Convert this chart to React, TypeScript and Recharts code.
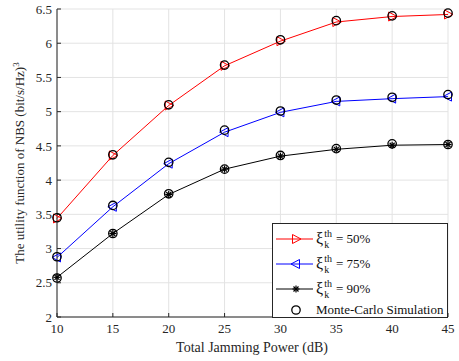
import { LineChart, Line, XAxis, YAxis, CartesianGrid } from "recharts"

const power = [10, 15, 20, 25, 30, 35, 40, 45]
const xi50 = [3.44, 4.36, 5.09, 5.67, 6.03, 6.31, 6.39, 6.42]
const xi75 = [2.87, 3.61, 4.24, 4.7, 4.99, 5.15, 5.19, 5.22]
const xi90 = [2.58, 3.22, 3.79, 4.16, 4.35, 4.45, 4.51, 4.52]
const mc50 = [3.45, 4.37, 5.1, 5.68, 6.05, 6.33, 6.4, 6.44]
const mc75 = [2.88, 3.63, 4.26, 4.73, 5.01, 5.17, 5.21, 5.25]
const mc90 = [2.57, 3.22, 3.8, 4.16, 4.36, 4.46, 4.53, 4.52]
const xTicks = [10, 15, 20, 25, 30, 35, 40, 45]
const yTicks = [2, 2.5, 3, 3.5, 4, 4.5, 5, 5.5, 6, 6.5]

const data = power.map((p, i) => ({
  p,
  xi50: xi50[i],
  xi75: xi75[i],
  xi90: xi90[i],
  mc50: mc50[i],
  mc75: mc75[i],
  mc90: mc90[i],
}))

const FONT = "'Liberation Serif', 'Times New Roman', serif"
const AXIS = "#262626"

const RightTri = ({ cx, cy }: any) => (
  <polygon points={`${cx + 5},${cy} ${cx - 3.5},${cy - 4.5} ${cx - 3.5},${cy + 4.5}`} fill="none" stroke="#ff0000" strokeWidth={1} />
)
const LeftTri = ({ cx, cy }: any) => (
  <polygon points={`${cx - 5},${cy} ${cx + 3.5},${cy - 4.5} ${cx + 3.5},${cy + 4.5}`} fill="none" stroke="#0000ff" strokeWidth={1} />
)
const Star = ({ cx, cy }: any) => (
  <g stroke="#000" strokeWidth={1.2}>
    <line x1={cx - 3.5} y1={cy} x2={cx + 3.5} y2={cy} />
    <line x1={cx} y1={cy - 3.5} x2={cx} y2={cy + 3.5} />
    <line x1={cx - 2.5} y1={cy - 2.5} x2={cx + 2.5} y2={cy + 2.5} />
    <line x1={cx - 2.5} y1={cy + 2.5} x2={cx + 2.5} y2={cy - 2.5} />
  </g>
)
const Circ = ({ cx, cy }: any) => <circle cx={cx} cy={cy} r={4.2} fill="none" stroke="#000" strokeWidth={1.3} />

function Xi({ v }: { v: string }) {
  return (
    <span style={{ display: "inline-flex", alignItems: "center" }}>
      <span style={{ fontSize: 16 }}>ξ</span>
      <span style={{ display: "inline-flex", flexDirection: "column", fontSize: 10, lineHeight: "11px", margin: "0 4px 0 1px" }}>
        <span>th</span>
        <span>k</span>
      </span>
      <span>= {v}</span>
    </span>
  )
}

function LegendBox() {
  const rows = [
    { icon: <RightTri cx={20} cy={6} />, color: "#ff0000", label: <Xi v="50%" /> },
    { icon: <LeftTri cx={20} cy={6} />, color: "#0000ff", label: <Xi v="75%" /> },
    { icon: <Star cx={20} cy={6} />, color: "#000", label: <Xi v="90%" /> },
    { icon: <Circ cx={20} cy={6} />, color: "none", label: <span>Monte-Carlo Simulation</span> },
  ]
  return (
    <div
      style={{
        position: "absolute",
        left: 272,
        top: 223,
        width: 176,
        height: 95,
        border: `1px solid ${AXIS}`,
        background: "#fff",
        boxSizing: "border-box",
        fontFamily: FONT,
        fontSize: 13,
        color: "#111",
        padding: "2px 0 0 3px",
      }}
    >
      {rows.map((r, i) => (
        <div key={i} style={{ display: "flex", alignItems: "center", height: i === 3 ? 17 : 25 }}>
          <svg width={37} height={12} style={{ marginRight: 3 }}>
            {r.color !== "none" && <line x1={0} y1={6} x2={37} y2={6} stroke={r.color} strokeWidth={1} />}
            {r.icon}
          </svg>
          {r.label}
        </div>
      ))}
    </div>
  )
}

const YLabel = () => (
  <text
    x={24}
    y={163}
    transform="rotate(-90, 24, 163)"
    textAnchor="middle"
    style={{ fontFamily: FONT, fontSize: 13 }}
    fill={AXIS}
  >
    The utility function of NBS (bit/s/Hz)
    <tspan dy={-5} style={{ fontSize: 9 }}>3</tspan>
  </text>
)

const XLabel = () => (
  <text x={252} y={352} textAnchor="middle" style={{ fontFamily: FONT, fontSize: 14 }} fill={AXIS}>
    Total Jamming Power (dB)
  </text>
)

export default function App() {
  const tickStyle = { fontFamily: FONT, fontSize: 13, fill: AXIS, style: { fontFamily: FONT } }
  return (
    <div style={{ position: "absolute", left: 0, top: 0, width: 459, height: 361, background: "#fff", fontFamily: FONT }}>
      <LineChart width={459} height={361} data={data} margin={{ top: 9, right: 11, left: 0, bottom: 0 }} style={{ fontFamily: FONT }}>
        <CartesianGrid stroke="#e3e3e3" strokeWidth={1} />
        <XAxis
          dataKey="p"
          type="number"
          domain={[10, 45]}
          ticks={xTicks}
          height={44}
          tick={tickStyle}
          tickSize={-4}
          tickMargin={11}
          stroke={AXIS}
          label={<XLabel />}
        />
        <XAxis xAxisId="top" orientation="top" type="number" domain={[10, 45]} ticks={xTicks} height={0} tick={() => <g />} tickSize={-4} stroke={AXIS} />
        <YAxis
          type="number"
          domain={[2, 6.5]}
          ticks={yTicks}
          width={57}
          tick={tickStyle}
          tickSize={-4}
          tickMargin={9}
          stroke={AXIS}
          label={<YLabel />}
        />
        <YAxis yAxisId="right" orientation="right" type="number" domain={[2, 6.5]} ticks={yTicks} width={0} tick={() => <g />} tickSize={-4} stroke={AXIS} />
        <Line dataKey="xi50" stroke="#ff0000" strokeWidth={1} dot={<RightTri />} isAnimationActive={false} />
        <Line dataKey="xi75" stroke="#0000ff" strokeWidth={1} dot={<LeftTri />} isAnimationActive={false} />
        <Line dataKey="xi90" stroke="#000" strokeWidth={1} dot={<Star />} isAnimationActive={false} />
        <Line dataKey="mc50" stroke="none" dot={<Circ />} isAnimationActive={false} />
        <Line dataKey="mc75" stroke="none" dot={<Circ />} isAnimationActive={false} />
        <Line dataKey="mc90" stroke="none" dot={<Circ />} isAnimationActive={false} />
      </LineChart>
      <LegendBox />
    </div>
  )
}
